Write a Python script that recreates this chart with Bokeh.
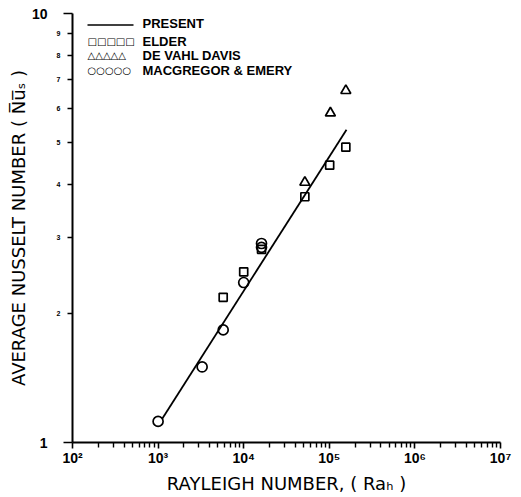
from bokeh.plotting import figure
from bokeh.models import FixedTicker, Label, BoxAnnotation, LogAxis
from bokeh.embed import file_html
from bokeh.resources import INLINE

# ---- data ----
present_ra = [1117, 158800]
present_nu = [1.136, 5.36]

elder_ra = [5760, 10000, 16150, 51800, 101000, 156000]
elder_nu = [2.18, 2.50, 2.82, 3.74, 4.43, 4.88]

davis_ra = [51800, 103000, 156000]
davis_nu = [4.04, 5.86, 6.61]

macg_ra = [1000, 3270, 5760, 10000, 16150, 16150]
macg_nu = [1.12, 1.50, 1.83, 2.36, 2.85, 2.91]

x_major = [1e2, 1e3, 1e4, 1e5, 1e6, 1e7]
x_minor = [k * d for d in [1e2, 1e3, 1e4, 1e5, 1e6] for k in range(2, 10)]
x_labels = {1e2: "10²", 1e3: "10³", 1e4: "10⁴", 1e5: "10⁵", 1e6: "10⁶", 1e7: "10⁷"}

y_end_ticks = [1, 10]
y_mid_ticks = [2, 3, 4, 5, 6, 7, 8, 9]

legend_names = ["PRESENT", "ELDER", "DE VAHL DAVIS", "MACGREGOR & EMERY"]
legend_symbols = ["", "□□□□□", "△△△△△", "○○○○○"]

FONT = "Liberation Sans"
LABEL_FONT = "DejaVu Sans"

p = figure(width=521, height=497, x_axis_type="log", y_axis_type="log",
           x_range=(1e2, 1e7), y_range=(1, 10),
           output_backend="svg", toolbar_location=None,
           min_border_left=72, min_border_right=21,
           min_border_top=13, min_border_bottom=55)
p.outline_line_color = None
p.xgrid.visible = False
p.ygrid.visible = False
p.background_fill_color = "white"
p.border_fill_color = "white"

# x axis
xa = p.xaxis[0]
xa.ticker = FixedTicker(ticks=x_major, minor_ticks=x_minor)
xa.major_label_overrides = {k: v for k, v in x_labels.items()}
xa.major_tick_in = 0
xa.major_tick_out = 6
xa.minor_tick_in = 0
xa.minor_tick_out = 5
xa.axis_line_color = "black"
xa.major_tick_line_color = "black"
xa.minor_tick_line_color = "black"
xa.axis_line_width = 2
xa.major_tick_line_width = 1.6
xa.minor_tick_line_width = 1.4
xa.major_label_text_font = FONT
xa.major_label_text_font_style = "bold"
xa.major_label_text_font_size = "14px"
xa.major_label_text_color = "black"
xa.major_label_standoff = 1
xa.axis_label = "RAYLEIGH NUMBER, ( Raₕ )"
xa.axis_label_text_font = LABEL_FONT
xa.axis_label_text_font_style = "normal"
xa.axis_label_text_font_size = "18px"
xa.axis_label_text_color = "black"
xa.axis_label_standoff = 4

# inner y axis: ticks 2..9 (small labels) + unlabelled long ticks at 1 and 10
ya = p.yaxis[0]
ya.ticker = FixedTicker(ticks=y_mid_ticks, minor_ticks=y_end_ticks)
ya.major_tick_in = 0
ya.major_tick_out = 5
ya.minor_tick_in = 0
ya.minor_tick_out = 9
ya.axis_line_color = "black"
ya.major_tick_line_color = "black"
ya.minor_tick_line_color = "black"
ya.axis_line_width = 2
ya.major_tick_line_width = 1.6
ya.minor_tick_line_width = 1.6
ya.major_label_text_font = FONT
ya.major_label_text_font_style = "bold"
ya.major_label_text_font_size = "7px"
ya.major_label_text_color = "black"
ya.major_label_standoff = 3
ya.axis_label = None

# outer y axis: labels 1 and 10 and the axis title
yb = LogAxis(ticker=FixedTicker(ticks=y_end_ticks, minor_ticks=[]))
yb.axis_line_color = None
yb.major_tick_line_color = None
yb.minor_tick_line_color = None
yb.major_tick_out = 0
yb.major_tick_in = 0
yb.major_label_overrides = {1: "1", 10: "10"}
yb.major_label_text_font = FONT
yb.major_label_text_font_style = "bold"
yb.major_label_text_font_size = "14px"
yb.major_label_text_color = "black"
yb.major_label_standoff = 6
yb.axis_label = "AVERAGE NUSSELT NUMBER ( N̅u̅ₛ )"
yb.axis_label_text_font = LABEL_FONT
yb.axis_label_text_font_style = "normal"
yb.axis_label_text_font_size = "18px"
yb.axis_label_text_color = "black"
yb.axis_label_standoff = 0
p.add_layout(yb, "left")

# data
p.line(present_ra, present_nu, line_color="black", line_width=1.8)
p.scatter(elder_ra, elder_nu, marker="square", size=8, fill_color=None,
          line_color="black", line_width=1.7)
p.scatter(davis_ra, davis_nu, marker="triangle", size=10, fill_color=None,
          line_color="black", line_width=1.7)
p.scatter(macg_ra, macg_nu, marker="circle", size=10, fill_color=None,
          line_color="black", line_width=1.7)

# legend (top-left)
row_offsets = [-10, -28, -42, -57]
for name, sym, dy in zip(legend_names, legend_symbols, row_offsets):
    p.add_layout(Label(x=1e2, y=10, x_offset=70, y_offset=dy, text=name,
                       text_align="left", text_baseline="middle",
                       text_font=FONT, text_font_style="bold",
                       text_font_size="13px", text_color="black"))
    if sym:
        p.add_layout(Label(x=1e2, y=10, x_offset=15, y_offset=dy, text=sym,
                           text_align="left", text_baseline="middle",
                           text_font="DejaVu Sans", text_font_style="bold",
                           text_font_size="10px", text_color="black"))
p.add_layout(BoxAnnotation(left=15, right=61, bottom=416.8, top=418.2,
                           left_units="screen", right_units="screen",
                           bottom_units="screen", top_units="screen",
                           fill_color="black", fill_alpha=1.0, line_color=None))

open("out.html", "w").write(file_html(p, INLINE))
